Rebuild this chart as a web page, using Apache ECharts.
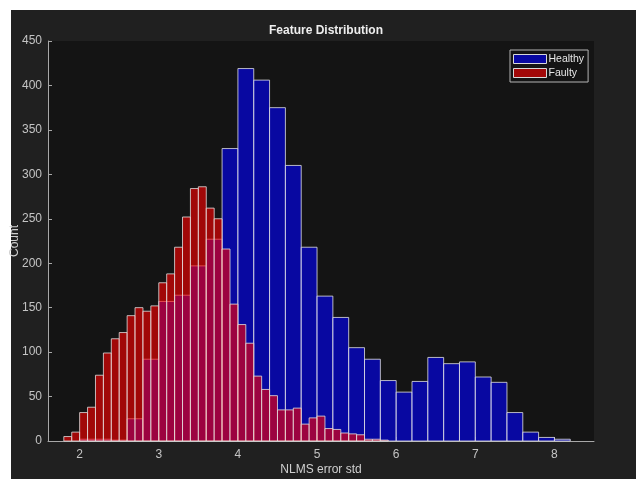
<!DOCTYPE html>
<html>
<head>
<meta charset="utf-8">
<title>Feature Distribution</title>
<script src="https://cdn.jsdelivr.net/npm/echarts@6/dist/echarts.min.js"></script>
<style>
  html, body { margin: 0; padding: 0; background: #ffffff; }
  #chart { width: 636px; height: 479px; }
</style>
</head>
<body>
<div id="chart"></div>
<script>
// Bin edges and counts for the two histograms
const healthyEdges = [2.0, 2.2, 2.4, 2.6, 2.8, 3.0, 3.2, 3.4, 3.6, 3.8, 4.0, 4.2, 4.4, 4.6, 4.8, 5.0,
  5.2, 5.4, 5.6, 5.8, 6.0, 6.2, 6.4, 6.6, 6.8, 7.0, 7.2, 7.4, 7.6, 7.8, 8.0, 8.2];
const healthyCounts = [2, 2, 1, 25, 92, 157, 164, 197, 227, 329, 419, 406, 375, 310, 218, 163,
  139, 105, 92, 68, 55, 67, 94, 87, 89, 72, 66, 32, 10, 4, 2];

const faultyEdges = [1.8, 1.9, 2.0, 2.1, 2.2, 2.3, 2.4, 2.5, 2.6, 2.7, 2.8, 2.9, 3.0, 3.1, 3.2, 3.3,
  3.4, 3.5, 3.6, 3.7, 3.8, 3.9, 4.0, 4.1, 4.2, 4.3, 4.4, 4.5, 4.6, 4.7, 4.8, 4.9, 5.0, 5.1, 5.2,
  5.3, 5.4, 5.5, 5.6, 5.7, 5.8, 5.9];
const faultyCounts = [5, 10, 32, 38, 74, 99, 115, 122, 141, 150, 146, 152, 178, 188, 218, 252,
  284, 286, 262, 250, 216, 154, 131, 110, 73, 58, 51, 35, 35, 37, 19, 26, 28, 14, 13,
  9, 8, 7, 2, 2, 1];

const xTicks = [2, 3, 4, 5, 6, 7, 8];
const yTicks = [0, 50, 100, 150, 200, 250, 300, 350, 400, 450];

const FONT = '"Liberation Sans", Arial, sans-serif';
const EDGE = 'rgba(225,225,225,0.8)';

function binData(edges, counts) {
  return counts.map((c, i) => [edges[i], edges[i + 1], c]);
}

function histRender(fill) {
  return function (params, api) {
    const lo = api.coord([api.value(0), 0]);
    const hi = api.coord([api.value(1), api.value(2)]);
    return {
      type: 'rect',
      shape: { x: lo[0], y: hi[1], width: hi[0] - lo[0], height: lo[1] - hi[1] },
      style: { fill: fill, stroke: EDGE, lineWidth: 1 }
    };
  };
}

const chart = echarts.init(document.getElementById('chart'), null, { renderer: 'canvas' });

chart.setOption({
  backgroundColor: '#ffffff',
  animation: false,
  graphic: [{
    type: 'rect', z: -10, silent: true,
    shape: { x: 11, y: 10, width: 625, height: 469 },
    style: { fill: '#202020' }
  }],
  title: {
    text: 'Feature Distribution',
    left: 321, top: 20, textAlign: 'center',
    textStyle: { color: '#eeeeee', fontFamily: FONT, fontSize: 12, fontWeight: 'bold' }
  },
  legend: {
    orient: 'vertical',
    left: 510, top: 50,
    padding: [2, 4, 2, 3],
    itemGap: 0,
    itemWidth: 33, itemHeight: 9,
    icon: 'rect',
    backgroundColor: '#141414',
    borderColor: '#b4b4b4', borderWidth: 1, borderRadius: 0,
    textStyle: { color: '#e6e6e6', fontFamily: FONT, fontSize: 10.5, padding: [0, 0, 0, -3], lineHeight: 14 },
    itemStyle: { borderColor: '#d8d8d8', borderWidth: 1 },
    data: ['Healthy', 'Faulty']
  },
  grid: {
    left: 48, top: 41, width: 546, height: 400,
    containLabel: false, outerBoundsMode: 'none',
    show: true, backgroundColor: '#141414', borderWidth: 0
  },
  xAxis: {
    type: 'value', min: 1.6, max: 8.5,
    name: 'NLMS error std', nameLocation: 'middle', nameGap: 23, nameMoveOverlap: false,
    nameTextStyle: { color: '#d0d0d0', fontFamily: FONT, fontSize: 12 },
    axisLine: { show: true, lineStyle: { color: '#a8a8a8', width: 1 } },
    axisTick: { show: true, inside: true, length: 4, customValues: xTicks, lineStyle: { color: '#a8a8a8' } },
    axisLabel: { customValues: xTicks, color: '#c4c4c4', fontFamily: FONT, fontSize: 12, margin: 8 },
    splitLine: { show: false }
  },
  yAxis: {
    type: 'value', min: 0, max: 450, interval: 50,
    name: 'Count', nameLocation: 'middle', nameGap: 27, nameMoveOverlap: false,
    nameTextStyle: { color: '#d0d0d0', fontFamily: FONT, fontSize: 12 },
    axisLine: { show: true, lineStyle: { color: '#a8a8a8', width: 1 } },
    axisTick: { show: true, inside: true, length: 4, lineStyle: { color: '#a8a8a8' } },
    axisLabel: { customValues: yTicks, color: '#c4c4c4', fontFamily: FONT, fontSize: 12, margin: 6 },
    splitLine: { show: false }
  },
  series: [
    {
      name: 'Healthy', type: 'custom', z: 2,
      itemStyle: { color: 'rgba(0,0,255,0.6)', borderColor: '#d8d8d8', borderWidth: 1 },
      renderItem: histRender('rgba(0,0,255,0.6)'),
      encode: { x: [0, 1], y: 2 },
      data: binData(healthyEdges, healthyCounts)
    },
    {
      name: 'Faulty', type: 'custom', z: 3,
      itemStyle: { color: 'rgba(255,0,0,0.6)', borderColor: '#d8d8d8', borderWidth: 1 },
      renderItem: histRender('rgba(255,0,0,0.6)'),
      encode: { x: [0, 1], y: 2 },
      data: binData(faultyEdges, faultyCounts)
    }
  ]
});
</script>
</body>
</html>
